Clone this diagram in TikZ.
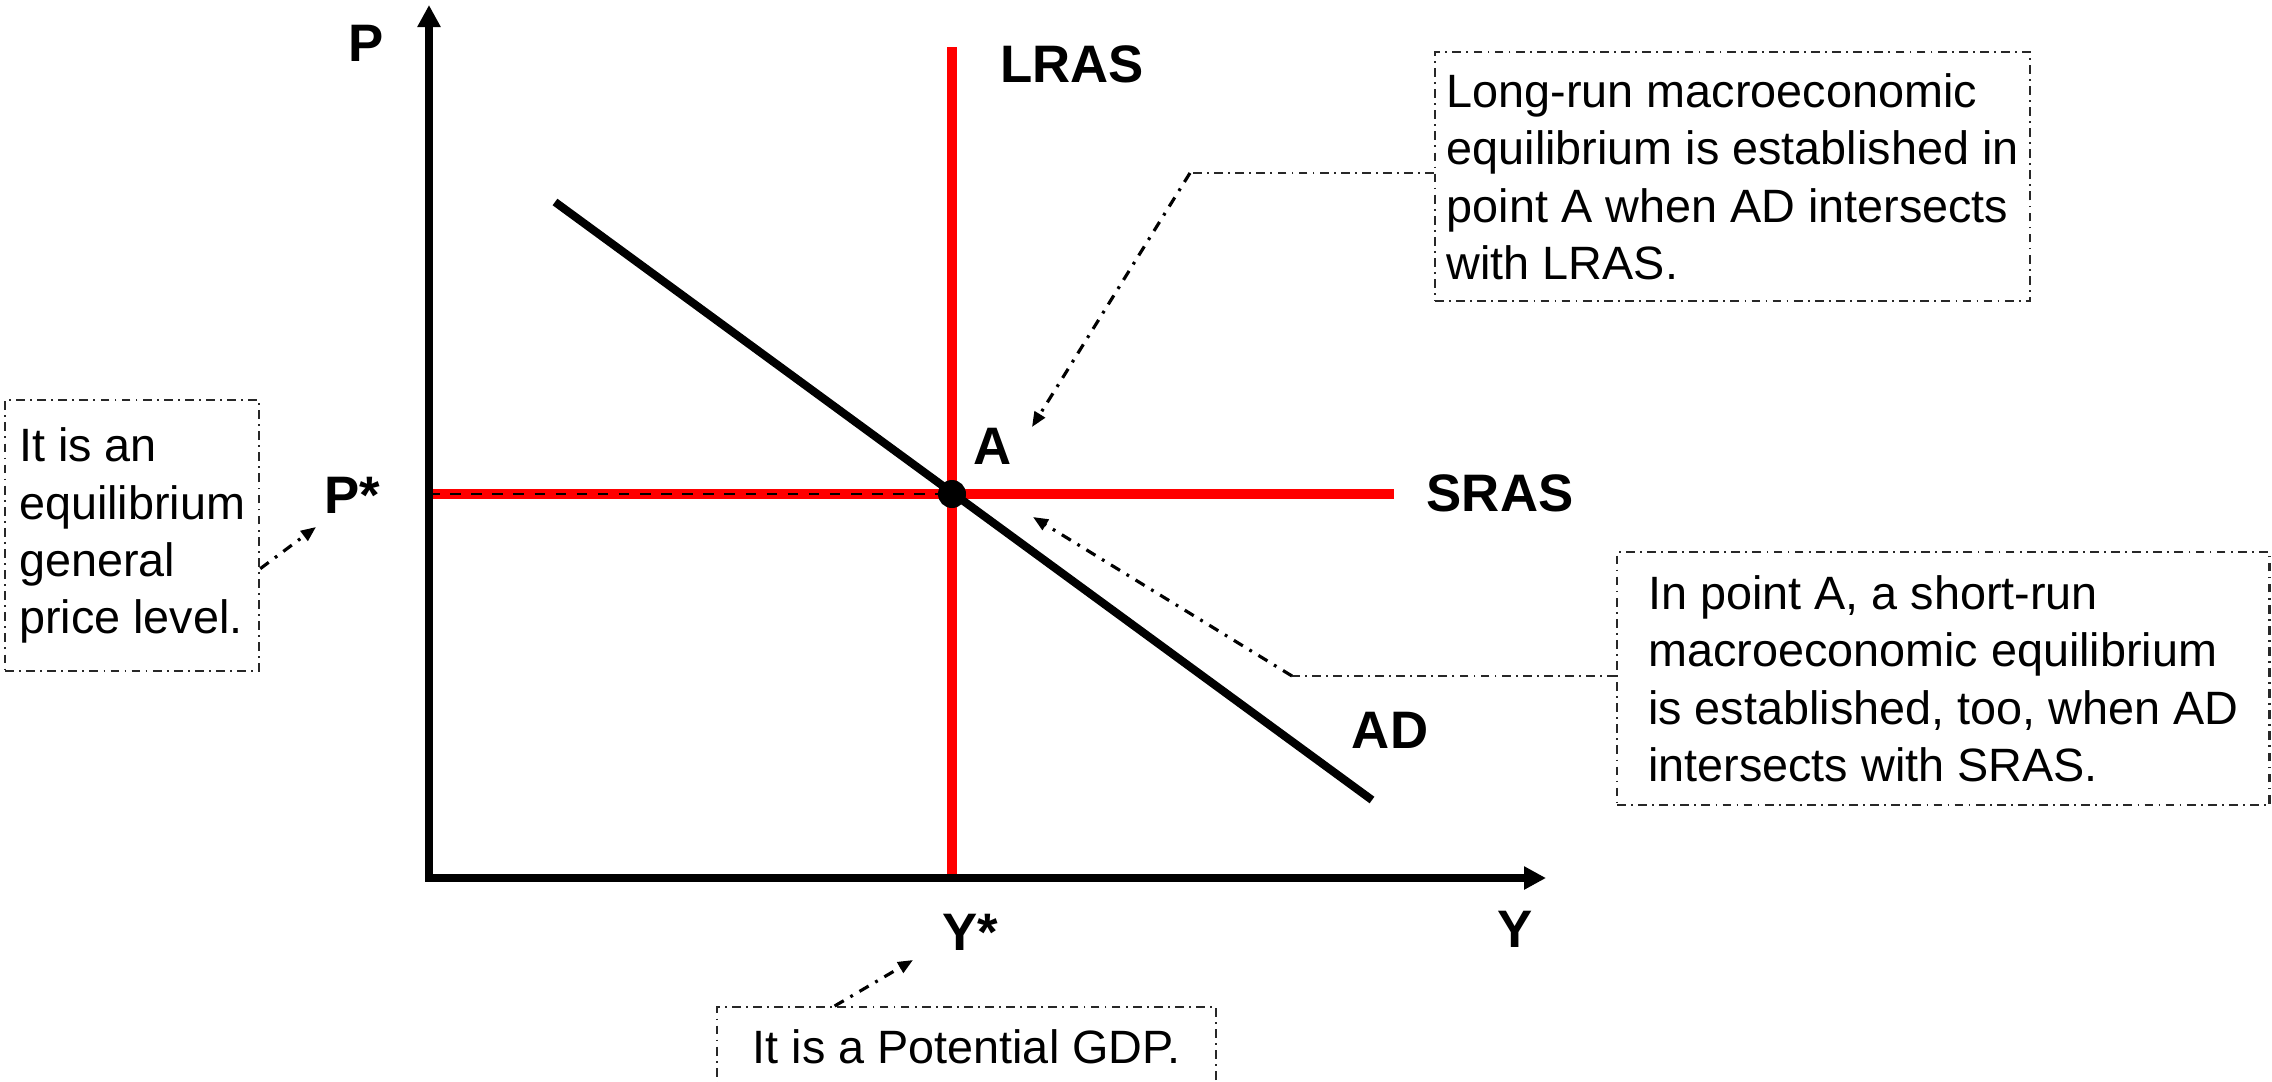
\documentclass[tikz,border=0pt]{standalone}
\usepackage{fontspec}
\setmainfont{Liberation Sans}
\usepackage{xcolor}
\usepackage{tikz}
\usetikzlibrary{arrows.meta,calc}
\definecolor{supplyred}{RGB}{255,0,0}
\definecolor{notegray}{RGB}{40,40,40}
\tikzset{
  axis-line/.style={line width=2pt, draw=black, -{Triangle[length=0.22cm, width=0.22cm]}},
  supply-line/.style={line width=2.8pt, draw=supplyred},
  demand-line/.style={line width=2.3pt, draw=black},
  guide-line/.style={line width=0.6pt, draw=black, dashed},
  eq-dot/.style={circle, fill=black, inner sep=0pt, minimum size=0.28cm},
  curve-label/.style={font=\fontsize{15}{18}\selectfont\bfseries, inner sep=0pt},
  note-box/.style={draw=notegray, line width=0.6pt,
    dash pattern=on 2.5pt off 1.5pt on 0.5pt off 1.5pt,
    align=left, font=\fontsize{13.3}{16.3}\selectfont, inner sep=0pt, anchor=north west},
  note-line/.style={line width=0.6pt, draw=notegray,
    dash pattern=on 2.5pt off 1.5pt on 0.5pt off 1.5pt},
  note-arrow/.style={line width=0.9pt, draw=black,
    dash pattern=on 3pt off 2.2pt on 0.8pt off 2.2pt,
    -{Triangle[length=0.15cm, width=0.12cm]}}
}
\begin{document}
\begin{tikzpicture}[x=0.01cm, y=-0.01cm]
\useasboundingbox (0,0) rectangle (2272,1081);

% Key points
\coordinate (origin) at (429,878);
\coordinate (ytop) at (429,5);
\coordinate (xend) at (1546,878);
\coordinate (eqA) at (952,494);
\coordinate (lras-top) at (952,47);
\coordinate (sras-end) at (1394,494);
\coordinate (ad-start) at (555,202);
\coordinate (ad-end) at (1372,800);

% Supply and demand curves
\draw[supply-line] (lras-top) -- (lras-top |- origin);
\draw[supply-line] (origin |- eqA) -- (sras-end);
\draw[guide-line] (origin |- eqA) -- (eqA);
\draw[demand-line] (ad-start) -- (ad-end);

% Axes
\draw[axis-line] (origin) -- (ytop);
\draw[axis-line] ([xshift=-1pt]origin) -- (xend);

% Equilibrium point
\node[eq-dot] (eqdot) at (eqA) {};

% Labels
\node[curve-label] (p-label) at (366,43) {P};
\node[curve-label] (y-label) at (1515,929) {Y};
\node[curve-label] (lras-label) at (1072,64) {LRAS};
\node[curve-label] (sras-label) at (1500,493) {SRAS};
\node[curve-label] (ad-label) at (1390,730) {AD};
\node[curve-label] (a-label) at (993,446) {A};
\node[curve-label] (pstar-label) at (352,495) {P*};
\node[curve-label] (ystar-label) at (970,932) {Y*};

% Notes
\node[note-box, minimum width=2.54cm, minimum height=2.71cm] (pricebox) at (4,399)
  {It is an\\equilibrium\\general\\price level.};
\node[note-box, minimum width=5.95cm, minimum height=2.49cm] (lrbox) at (1434,51)
  {Long-run macroeconomic\\equilibrium is established in\\point A when AD intersects\\with LRAS.};
\node[note-box, minimum width=6.52cm, minimum height=2.53cm] (srbox) at (1616,551)
  {In point A, a short-run\\macroeconomic equilibrium\\is established, too, when AD\\intersects with SRAS.};
\node[note-box, minimum width=4.99cm, minimum height=0.8cm] (gdpbox) at (716,1006)
  {It is a Potential GDP.};

% Note connectors
\coordinate (pstar-tip) at (316,527);
\coordinate (lr-bend) at (1190,173);
\coordinate (lr-tip) at (1032,427);
\coordinate (sr-bend) at (1292,676);
\coordinate (sr-tip) at (1033,517);
\coordinate (gdp-tip) at (913,960);

\draw[note-arrow] ([yshift=-0.33cm]pricebox.east) -- (pstar-tip);
\draw[note-line] (lr-bend -| lrbox.west) -- (lr-bend);
\draw[note-arrow] (lr-bend) -- (lr-tip);
\draw[note-line] (sr-bend -| srbox.west) -- (sr-bend);
\draw[note-arrow] (sr-bend) -- (sr-tip);
\draw[note-arrow] ([xshift=-1.32cm]gdpbox.north) -- (gdp-tip);
\end{tikzpicture}
\end{document}
